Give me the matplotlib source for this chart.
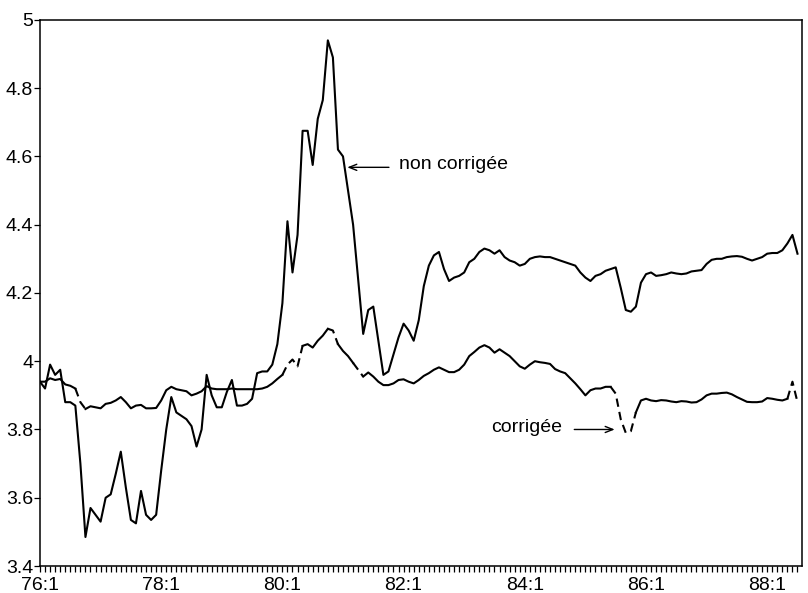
import matplotlib
matplotlib.use("Agg")
import matplotlib.pyplot as plt
import numpy as np

plt.rcParams['font.family'] = ['Liberation Sans', 'DejaVu Sans']

# Monthly data, 76:1 (index 0) to 88:7 (index 150)
non_corrigee = [
    3.94, 3.92, 3.99, 3.96, 3.975, 3.88, 3.88, 3.87, 3.70, 3.485,
    3.57, 3.55, 3.53, 3.60, 3.61, 3.67, 3.735, 3.63, 3.535, 3.525,
    3.62, 3.55, 3.535, 3.55, 3.68, 3.80, 3.895, 3.85, 3.84, 3.83,
    3.81, 3.75, 3.80, 3.96, 3.90, 3.865, 3.865, 3.91, 3.945, 3.87,
    3.87, 3.875, 3.89, 3.965, 3.97, 3.97, 3.99, 4.05, 4.17, 4.41,
    4.26, 4.37, 4.675, 4.675, 4.575, 4.71, 4.765, 4.94, 4.89, 4.62,
    4.60, 4.50, 4.40, 4.24, 4.08, 4.15, 4.16, 4.06, 3.96, 3.97,
    4.02, 4.07, 4.11, 4.09, 4.06, 4.12, 4.22, 4.28, 4.31, 4.32,
    4.27, 4.235, 4.245, 4.25, 4.26, 4.29, 4.30, 4.32, 4.33, 4.325,
    4.315, 4.325, 4.305, 4.295, 4.29, 4.28, 4.285, 4.30, 4.305, 4.307,
    4.305, 4.305, 4.30, 4.295, 4.29, 4.285, 4.28, 4.26, 4.245, 4.235,
    4.25, 4.255, 4.265, 4.27, 4.275, 4.215, 4.15, 4.145, 4.16, 4.23,
    4.255, 4.26, 4.25, 4.252, 4.255, 4.26, 4.257, 4.255, 4.257, 4.263,
    4.265, 4.267, 4.285, 4.297, 4.30, 4.30, 4.305, 4.307, 4.308, 4.306,
    4.30, 4.295, 4.30, 4.305, 4.315, 4.317, 4.317, 4.325, 4.345, 4.37,
    4.315,
]

corrigee = [
    3.94, 3.94, 3.95, 3.945, 3.948, 3.932, 3.928, 3.92, 3.88, 3.86,
    3.868, 3.865, 3.862, 3.875, 3.878, 3.885, 3.895, 3.88, 3.862, 3.87,
    3.872, 3.862, 3.862, 3.863, 3.885, 3.915, 3.925, 3.918, 3.915, 3.912,
    3.90, 3.905, 3.912, 3.927, 3.92, 3.918, 3.918, 3.918, 3.92, 3.918,
    3.918, 3.918, 3.918, 3.918, 3.92, 3.925, 3.935, 3.948, 3.96, 3.99,
    4.005, 3.985, 4.045, 4.05, 4.04, 4.06, 4.075, 4.095, 4.09, 4.05,
    4.03, 4.015, 3.995, 3.975, 3.955, 3.967, 3.955, 3.94, 3.93, 3.93,
    3.935, 3.945, 3.947, 3.94, 3.935, 3.945, 3.957, 3.965, 3.975, 3.982,
    3.975, 3.968, 3.968, 3.975, 3.99, 4.015, 4.027, 4.04, 4.047, 4.04,
    4.025, 4.035, 4.025, 4.015, 4.0, 3.985, 3.978, 3.99, 4.0, 3.997,
    3.995, 3.992, 3.977, 3.97, 3.965, 3.95, 3.935, 3.918, 3.90, 3.915,
    3.92, 3.92, 3.925, 3.925, 3.905, 3.83, 3.79, 3.795, 3.85, 3.885,
    3.89, 3.885, 3.883, 3.886, 3.885, 3.882, 3.88, 3.883, 3.882, 3.879,
    3.88, 3.888, 3.90, 3.905, 3.905, 3.907, 3.908, 3.903, 3.895, 3.888,
    3.881, 3.88, 3.88, 3.882, 3.892, 3.89, 3.887, 3.885, 3.89, 3.94,
    3.88,
]

tick_labels = ["76:1", "78:1", "80:1", "82:1", "84:1", "86:1", "88:1"]
y_ticks = [3.4, 3.6, 3.8, 4.0, 4.2, 4.4, 4.6, 4.8, 5.0]
y_tick_labels = ["3.4", "3.6", "3.8", "4", "4.2", "4.4", "4.6", "4.8", "5"]

# style: month ranges of the corrected series drawn dashed
dashed_spans = [(7, 9), (48, 52), (57, 59), (62, 64), (113, 118), (148, 150)]

months = np.arange(len(non_corrigee))
N = np.array(non_corrigee, dtype=float)
C = np.array(corrigee, dtype=float)

c_solid = C.copy()
c_dash = np.full_like(C, np.nan)
for a, b in dashed_spans:
    c_solid[a + 1:b] = np.nan
    c_dash[a:b + 1] = C[a:b + 1]

fig = plt.figure(figsize=(8.08, 5.93), dpi=100)
ax = fig.add_axes([0.0495, 0.0455, 0.9425, 0.921])

ax.plot(months, N, color='black', lw=1.5)
ax.plot(months, c_solid, color='black', lw=1.5)
ax.plot(months, c_dash, color='black', lw=1.5, linestyle=(0, (4, 2.5)))

ax.set_xlim(0, 150.8)
ax.set_ylim(3.4, 5.0)

ax.set_xticks(np.arange(0, 24 * len(tick_labels), 24))
ax.set_xticklabels(tick_labels)
ax.set_xticks(np.arange(0, 151, 1), minor=True)
ax.set_yticks(y_ticks)
ax.set_yticklabels(y_tick_labels)

ax.tick_params(axis='x', which='both', direction='out', length=4.5, width=0.9,
               pad=3.5, labelsize=14)
ax.tick_params(axis='y', which='both', direction='out', length=4, width=0.9,
               pad=1, labelsize=14)
for s in ax.spines.values():
    s.set_linewidth(1.1)

ax.annotate("", xy=(60.85, 4.568), xytext=(69.1, 4.568),
            arrowprops=dict(arrowstyle='->,head_length=0.55,head_width=0.22',
                            color='black', lw=1.0, shrinkA=0, shrinkB=0))
ax.text(71.1, 4.575, "non corrigée", fontsize=14, ha='left', va='center')

ax.annotate("", xy=(113.8, 3.80), xytext=(105.8, 3.80),
            arrowprops=dict(arrowstyle='->,head_length=0.55,head_width=0.22',
                            color='black', lw=1.0, shrinkA=0, shrinkB=0))
ax.text(89.3, 3.807, "corrigée", fontsize=14, ha='left', va='center')

fig.savefig("out.png", dpi=100, facecolor='white')
